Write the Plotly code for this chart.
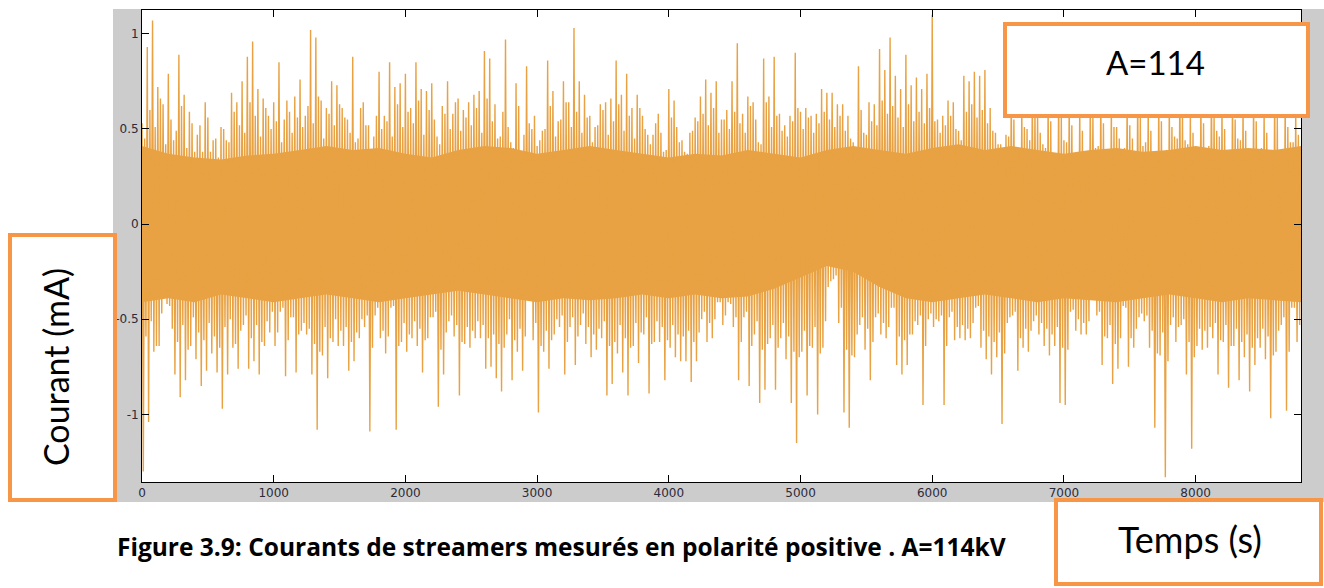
import plotly.graph_objects as go

# ---------------- data ----------------
# Largest peak / deepest trough of the current (mA) in successive 40 s windows, t = 0 .. 8800 s
sample_step_s = 40
peak_max_part1 = [0.53, 0.93, 1.07, 0.72, 0.63, 0.79, 0.44, 0.89, 0.68, 0.59, 0.38, 0.52, 0.64, 0.38, 0.45, 0.51,
                  0.44, 0.69, 0.64, 0.75, 0.88, 0.96, 0.71, 0.66, 0.57, 0.64, 0.85, 0.55, 0.59, 0.67, 0.76, 0.57,
                  1.02, 0.98, 0.65, 0.61, 0.75, 0.73]
peak_max_part2 = [0.61, 0.55, 0.88, 0.45, 0.64, 0.52, 0.46, 0.80, 0.57, 0.85, 0.72, 0.74, 0.79, 0.61, 0.85, 0.71,
                  0.70, 0.74, 0.46, 0.62, 0.75, 0.58, 0.66, 0.60, 0.64, 0.68, 0.70, 0.91, 0.87, 0.63, 0.46, 0.97,
                  0.43, 0.74, 0.37, 0.83, 0.50, 0.41]
peak_max_part3 = [0.49, 0.86, 0.70, 0.54, 0.75, 0.64, 1.03, 0.75, 0.68, 0.57, 0.51, 0.63, 0.64, 0.66, 0.86, 0.68,
                  0.79, 0.61, 0.68, 0.57, 0.47, 0.47, 0.58, 0.38, 0.71, 0.65, 0.43, 0.38, 0.48, 0.56, 0.67, 0.76,
                  0.69, 0.75, 0.55, 0.60]
peak_max_part4 = [0.75, 0.95, 0.58, 0.67, 0.64, 0.43, 0.87, 0.67, 0.88, 0.58, 0.52, 0.57, 0.90, 0.59, 0.61, 0.57,
                  0.58, 0.71, 0.69, 0.69, 0.63, 0.63, 0.57, 0.43, 0.83, 0.48, 0.64, 0.63, 0.92, 0.81, 0.98, 0.78,
                  0.71, 0.89, 0.73, 0.77, 0.71]
peak_max_part5 = [0.79, 1.10, 0.55, 0.57, 0.65, 0.64, 0.49, 0.78, 0.75, 0.80, 0.78, 0.81, 0.61, 0.48, 0.42, 0.47,
                  0.68, 0.40, 0.62, 0.50, 0.70, 0.60, 0.42, 0.65, 0.30, 0.72, 0.44, 0.66, 0.24, 0.61, 0.31, 0.64,
                  0.40, 0.70, 0.29, 0.63, 0.51]
peak_max_part6 = [0.28, 0.66, 0.45, 0.70, 0.41, 0.62, 0.31, 0.68, 0.27, 0.64, 0.46, 0.72, 0.44, 0.60, 0.29, 0.66,
                  0.40, 0.75, 0.49, 0.62, 0.28, 0.70, 0.45, 0.63, 0.18, 0.68, 0.39, 0.61, 0.33, 0.71, 0.21, 0.65,
                  0.43, 0.60, 0.40]

peak_min_part1 = [-1.30, -1.04, -0.67, -0.64, -0.36, -0.43, -0.79, -0.91, -0.82, -0.64, -0.71, -0.85, -0.77, -0.68,
                  -0.78, -0.97, -0.79, -0.65, -0.76, -0.53, -0.76, -0.72, -0.79, -0.64, -0.57, -0.64, -0.46, -0.80,
                  -0.49, -0.78, -0.56, -0.58, -0.79, -1.08, -0.69, -0.81, -0.62, -0.64]
peak_min_part2 = [-0.64, -0.77, -0.72, -0.60, -0.54, -1.09, -0.48, -0.60, -0.68, -0.44, -1.08, -0.62, -0.67, -0.60,
                  -0.64, -0.78, -0.60, -0.49, -0.96, -0.79, -0.51, -0.59, -0.90, -0.63, -0.65, -0.60, -0.60, -0.76,
                  -0.75, -0.81, -0.88, -0.58, -0.82, -0.67, -0.77, -0.39, -0.61, -0.99]
peak_min_part3 = [-0.67, -0.76, -0.58, -0.54, -0.79, -0.54, -0.74, -0.53, -0.63, -0.70, -0.66, -0.60, -0.90, -0.84,
                  -0.68, -0.78, -0.90, -0.64, -0.73, -0.58, -0.89, -0.62, -0.62, -0.82, -0.65, -0.70, -0.72, -0.72,
                  -0.83, -0.72, -0.50, -0.62, -0.60, -0.41, -0.53, -0.41]
peak_min_part4 = [-0.54, -0.82, -0.49, -0.85, -0.58, -0.94, -0.87, -0.60, -0.87, -0.60, -0.71, -0.94, -1.15, -0.67,
                  -0.90, -0.65, -1.00, -0.65, -0.33, -0.29, -0.52, -0.99, -1.07, -0.70, -0.53, -0.66, -0.82, -0.49,
                  -0.58, -0.60, -0.44, -0.74, -0.79, -0.74, -0.58, -0.53, -0.95]
peak_min_part5 = [-0.50, -0.54, -0.51, -0.95, -0.49, -0.61, -0.60, -0.61, -0.60, -0.44, -0.65, -0.71, -0.79, -0.70,
                  -1.05, -0.52, -0.48, -0.77, -0.65, -0.67, -0.51, -0.58, -0.64, -0.69, -0.64, -0.94, -0.95, -0.46,
                  -0.56, -0.58, -0.58, -0.34, -0.48, -0.74, -0.60, -0.84, -0.76]
peak_min_part6 = [-0.43, -0.75, -0.65, -0.49, -0.51, -0.65, -1.07, -0.69, -1.33, -0.53, -0.62, -0.53, -0.79, -1.18,
                  -0.64, -0.66, -0.65, -0.60, -0.79, -0.62, -0.86, -0.64, -0.82, -0.70, -0.88, -0.74, -0.65, -0.71,
                  -1.02, -0.67, -0.53, -0.98, -0.44, -0.62, -0.86]

# Second (smaller) peak / trough within each 40 s window - the dense lines just outside the core
second_max_part1 = [0.45, 0.60, 0.51, 0.66, 0.42, 0.55, 0.49, 0.62, 0.40, 0.53, 0.47, 0.38, 0.56, 0.44, 0.35, 0.50,
                    0.43, 0.59, 0.52, 0.48, 0.64, 0.57, 0.46, 0.61, 0.50, 0.54, 0.43, 0.65, 0.48, 0.56, 0.51, 0.62,
                    0.53, 0.67, 0.45, 0.58, 0.52, 0.63]
second_max_part2 = [0.56, 0.48, 0.43, 0.61, 0.52, 0.39, 0.57, 0.50, 0.54, 0.46, 0.63, 0.51, 0.59, 0.53, 0.65, 0.47,
                    0.60, 0.55, 0.42, 0.58, 0.50, 0.64, 0.49, 0.56, 0.52, 0.61, 0.48, 0.66, 0.54, 0.45, 0.59, 0.51,
                    0.40, 0.62, 0.47, 0.53, 0.57, 0.44]
second_max_part3 = [0.50, 0.62, 0.46, 0.55, 0.64, 0.51, 0.59, 0.48, 0.56, 0.43, 0.52, 0.60, 0.47, 0.54, 0.63, 0.49,
                    0.57, 0.45, 0.61, 0.50, 0.42, 0.53, 0.48, 0.39, 0.56, 0.51, 0.44, 0.37, 0.49, 0.54, 0.58, 0.52,
                    0.61, 0.48, 0.55, 0.50]
second_max_part4 = [0.59, 0.53, 0.48, 0.62, 0.55, 0.42, 0.64, 0.51, 0.57, 0.49, 0.46, 0.54, 0.61, 0.50, 0.56, 0.48,
                    0.53, 0.59, 0.55, 0.51, 0.57, 0.49, 0.45, 0.40, 0.60, 0.47, 0.54, 0.52, 0.65, 0.58, 0.62, 0.56,
                    0.51, 0.63, 0.54, 0.59, 0.53]
second_max_part5 = [0.61, 0.54, 0.48, 0.52, 0.57, 0.50, 0.44, 0.59, 0.63, 0.56, 0.60, 0.53, 0.49, 0.42, 0.39, 0.46,
                    0.55, 0.37, 0.51, 0.44, 0.59, 0.48, 0.40, 0.54, 0.31, 0.57, 0.43, 0.52, 0.35, 0.49, 0.30, 0.56,
                    0.41, 0.53, 0.38, 0.51, 0.45]
second_max_part6 = [0.40, 0.52, 0.37, 0.56, 0.43, 0.49, 0.34, 0.54, 0.39, 0.51, 0.45, 0.58, 0.42, 0.48, 0.36, 0.53,
                    0.41, 0.57, 0.46, 0.50, 0.35, 0.55, 0.44, 0.49, 0.32, 0.54, 0.40, 0.48, 0.37, 0.56, 0.33, 0.51,
                    0.43, 0.47, 0.42]

second_min_part1 = [-0.59, -0.51, -0.64, -0.47, -0.42, -0.55, -0.62, -0.53, -0.66, -0.49, -0.57, -0.61, -0.52,
                    -0.59, -0.65, -0.54, -0.50, -0.63, -0.56, -0.48, -0.60, -0.53, -0.62, -0.51, -0.46, -0.57,
                    -0.44, -0.61, -0.49, -0.58, -0.52, -0.55, -0.63, -0.67, -0.54, -0.60, -0.50, -0.56]
second_min_part2 = [-0.54, -0.62, -0.57, -0.50, -0.48, -0.65, -0.44, -0.56, -0.59, -0.43, -0.64, -0.52, -0.58,
                    -0.51, -0.55, -0.61, -0.49, -0.46, -0.66, -0.57, -0.48, -0.53, -0.62, -0.54, -0.56, -0.51,
                    -0.53, -0.60, -0.58, -0.63, -0.65, -0.50, -0.61, -0.55, -0.59, -0.40, -0.52, -0.64]
second_min_part3 = [-0.56, -0.61, -0.50, -0.48, -0.62, -0.49, -0.59, -0.47, -0.54, -0.58, -0.55, -0.51, -0.64,
                    -0.62, -0.53, -0.60, -0.65, -0.52, -0.57, -0.49, -0.63, -0.51, -0.54, -0.61, -0.53, -0.58,
                    -0.59, -0.56, -0.62, -0.57, -0.46, -0.52, -0.50, -0.41, -0.48, -0.42]
second_min_part4 = [-0.49, -0.62, -0.46, -0.64, -0.51, -0.66, -0.63, -0.53, -0.65, -0.52, -0.59, -0.67, -0.70,
                    -0.56, -0.64, -0.54, -0.68, -0.51, -0.30, -0.27, -0.44, -0.66, -0.69, -0.58, -0.49, -0.55,
                    -0.62, -0.47, -0.52, -0.54, -0.44, -0.59, -0.61, -0.58, -0.51, -0.48, -0.64]
second_min_part5 = [-0.47, -0.50, -0.48, -0.64, -0.46, -0.54, -0.53, -0.55, -0.52, -0.43, -0.56, -0.59, -0.62,
                    -0.57, -0.68, -0.49, -0.46, -0.60, -0.55, -0.56, -0.48, -0.52, -0.55, -0.58, -0.54, -0.65,
                    -0.66, -0.45, -0.50, -0.52, -0.51, -0.36, -0.46, -0.59, -0.53, -0.63, -0.60]
second_min_part6 = [-0.44, -0.60, -0.55, -0.47, -0.48, -0.56, -0.68, -0.57, -0.72, -0.49, -0.54, -0.50, -0.62,
                    -0.70, -0.55, -0.56, -0.54, -0.52, -0.61, -0.53, -0.64, -0.55, -0.62, -0.58, -0.65, -0.60,
                    -0.55, -0.59, -0.69, -0.56, -0.49, -0.67, -0.44, -0.53, -0.62]

# Solid core of the signal, every 200 s (0 .. 8800 s)
core_step_s = 200
core_upper = [0.41, 0.37, 0.35, 0.34, 0.36, 0.37, 0.39, 0.41, 0.39, 0.40, 0.37, 0.35, 0.39, 0.41, 0.40,
              0.37, 0.39, 0.41, 0.39, 0.37, 0.35, 0.37, 0.36, 0.39, 0.37, 0.35, 0.39, 0.41, 0.39, 0.37,
              0.40, 0.42, 0.39, 0.41, 0.39, 0.37, 0.39, 0.40, 0.38, 0.39, 0.41, 0.39, 0.40, 0.39, 0.41]
core_lower = [-0.41, -0.39, -0.41, -0.37, -0.39, -0.41, -0.39, -0.37, -0.39, -0.41, -0.39, -0.37, -0.35, -0.37,
              -0.39, -0.41, -0.39, -0.40, -0.39, -0.37, -0.39, -0.37, -0.39, -0.38, -0.34, -0.28, -0.22, -0.25,
              -0.33, -0.39, -0.41, -0.39, -0.37, -0.39, -0.41, -0.39, -0.40, -0.41, -0.39, -0.37, -0.39, -0.41,
              -0.39, -0.40, -0.41]

x_tick_values = [0, 1000, 2000, 3000, 4000, 5000, 6000, 7000, 8000]
y_tick_values = [-1, -0.5, 0, 0.5, 1]
y_tick_labels = ["-1", "-0.5", "0", "0.5", "1"]

caption = "Figure 3.9: Courants de streamers mesurés en polarité positive . A=114kV"

# ---------------- build the traces ----------------
peak_max = peak_max_part1 + peak_max_part2 + peak_max_part3 + peak_max_part4 + peak_max_part5 + peak_max_part6
peak_min = peak_min_part1 + peak_min_part2 + peak_min_part3 + peak_min_part4 + peak_min_part5 + peak_min_part6
second_max = (second_max_part1 + second_max_part2 + second_max_part3 + second_max_part4 + second_max_part5
              + second_max_part6)
second_min = (second_min_part1 + second_min_part2 + second_min_part3 + second_min_part4 + second_min_part5
              + second_min_part6)
times = [i * sample_step_s for i in range(len(peak_max))]
core_times = [i * core_step_s for i in range(len(core_upper))]

q = sample_step_s / 4
sig_x, sig_y = [], []
for t, a, b, c, d in zip(times, peak_max, peak_min, second_max, second_min):
    sig_x += [t, t + q, t + 2 * q, t + 3 * q]
    sig_y += [a, b, c, d]

ORANGE = "#E8A243"
BOX = "#F79646"

W, H = 1324, 588
L, R, T, B = 142, 1301, 10, 482


def px(x):
    return (x - L) / (R - L)


def py(y):
    return (B - y) / (B - T)


fig = go.Figure()
fig.add_trace(go.Scatter(x=core_times, y=core_lower, mode="lines", line=dict(width=0, color=ORANGE),
                         showlegend=False, hoverinfo="skip"))
fig.add_trace(go.Scatter(x=core_times, y=core_upper, mode="lines", line=dict(width=0, color=ORANGE),
                         fill="tonexty", fillcolor=ORANGE, showlegend=False, hoverinfo="skip"))
fig.add_trace(go.Scatter(x=sig_x, y=sig_y, mode="lines", line=dict(width=1.4, color=ORANGE),
                         showlegend=False))

axis_common = dict(ticks="inside", ticklen=7, tickwidth=1, tickcolor="black", showline=True,
                   linecolor="black", linewidth=1, mirror="ticks", showgrid=False, zeroline=False,
                   tickfont=dict(family="DejaVu Sans", size=12, color="#2a2a3a"))

fig.update_layout(
    width=W, height=H,
    margin=dict(l=L, r=W - R, t=T, b=H - B, pad=0),
    paper_bgcolor="white", plot_bgcolor="white",
    xaxis=dict(range=[0, 8800], tickvals=x_tick_values, **axis_common),
    yaxis=dict(range=[-1.355, 1.125], tickvals=y_tick_values, ticktext=y_tick_labels, **axis_common),
    showlegend=False,
)

shapes = [
    # grey figure window
    dict(type="rect", xref="paper", yref="paper", x0=px(113), x1=px(1324), y0=py(502), y1=py(9),
         fillcolor="#CCCCCC", line=dict(width=0), layer="below"),
    dict(type="rect", xref="paper", yref="paper", x0=0, x1=1, y0=0, y1=1,
         fillcolor="white", line=dict(width=0), layer="below"),
    # crop of the figure on the left
    dict(type="rect", xref="paper", yref="paper", x0=px(-20), x1=px(113), y0=py(620), y1=py(-20),
         fillcolor="white", line=dict(width=0), layer="above"),
    # label boxes
    dict(type="rect", xref="paper", yref="paper", x0=px(10), x1=px(115), y0=py(500), y1=py(235),
         fillcolor="white", line=dict(width=4, color=BOX), layer="above"),
    dict(type="rect", xref="paper", yref="paper", x0=px(1005), x1=px(1308), y0=py(116), y1=py(24),
         fillcolor="white", line=dict(width=4, color=BOX), layer="above"),
    dict(type="rect", xref="paper", yref="paper", x0=px(1056), x1=px(1321), y0=py(584), y1=py(500),
         fillcolor="white", line=dict(width=4, color=BOX), layer="above"),
]
fig.update_layout(shapes=shapes)

fig.add_annotation(text="Courant (mA)", xref="paper", yref="paper", x=px(55), y=py(367),
                   textangle=-90, showarrow=False, xanchor="center", yanchor="middle",
                   font=dict(family="Lato", size=34, color="black"))
fig.add_annotation(text="A=114", xref="paper", yref="paper", x=px(1155), y=py(62),
                   showarrow=False, xanchor="center", yanchor="middle",
                   font=dict(family="Lato", size=33, color="black"))
fig.add_annotation(text="Temps (s)", xref="paper", yref="paper", x=px(1190), y=py(539),
                   showarrow=False, xanchor="center", yanchor="middle",
                   font=dict(family="Lato", size=36, color="black"))
fig.add_annotation(text="<b>" + caption + "</b>", xref="paper", yref="paper", x=px(115), y=py(546),
                   showarrow=False, xanchor="left", yanchor="middle",
                   font=dict(family="Open Sans", size=24.5, color="black"))

fig.write_html("out.html")
